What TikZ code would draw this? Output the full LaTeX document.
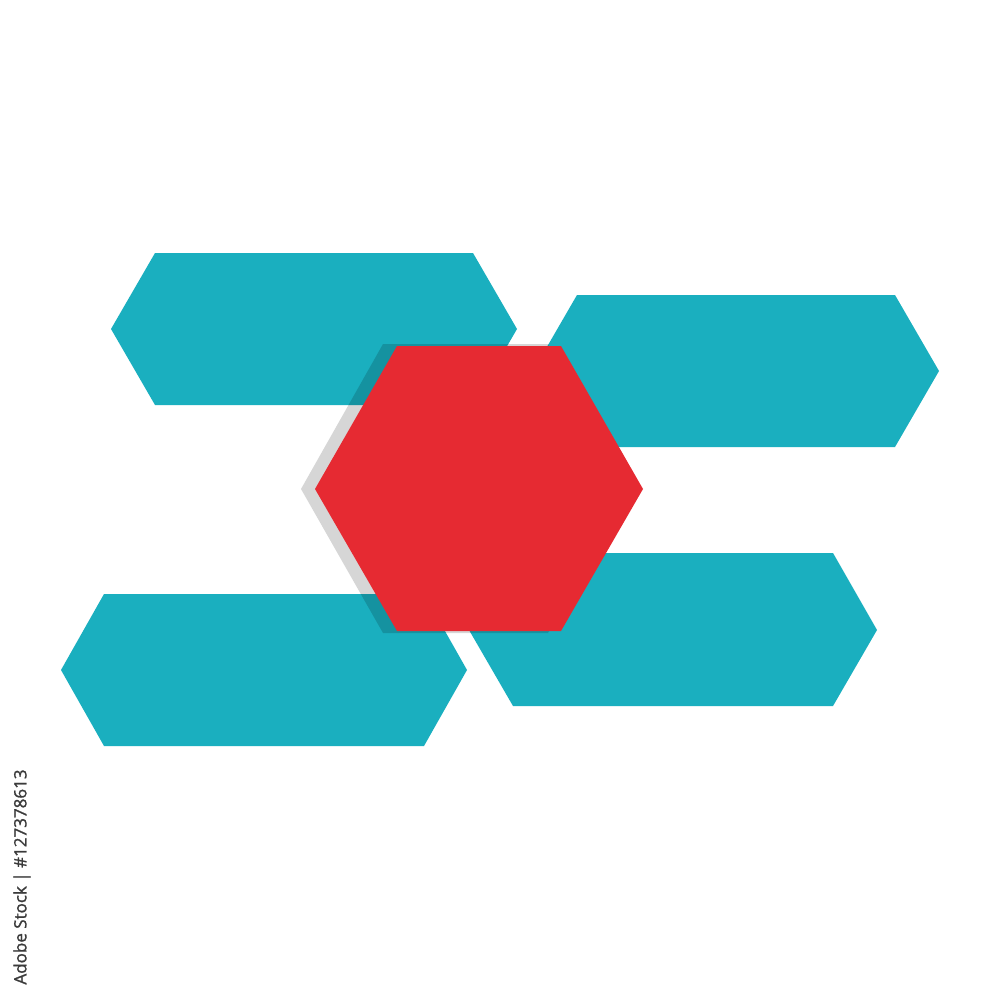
\documentclass[tikz,border=0pt]{standalone}
\usepackage{fontspec}
\newfontfamily\idfont[FakeBold=1.2]{Open Sans}
\definecolor{tealc}{HTML}{1AAFBF}
\definecolor{redc}{HTML}{E62A32}
\definecolor{idgray}{HTML}{3A3A3A}
\begin{document}
\begin{tikzpicture}[x=1pt,y=-1pt,
  tealhex/.style={fill=tealc,draw=none},
  redhex/.style={fill=redc,draw=none},
  shadowhex/.style={fill=black,fill opacity=0.16,draw=none}]
\useasboundingbox (0,0) rectangle (1000,1000);
\fill[white] (0,0) rectangle (1000,1000);
% teal hexagons
\path[tealhex] (155,253) -- (473,253) -- (517,329) -- (473,405) -- (155,405) -- (111,329) -- cycle;
\path[tealhex] (577,295) -- (895,295) -- (939,371) -- (895,447) -- (577,447) -- (533,371) -- cycle;
\path[tealhex] (104,594) -- (424,594) -- (467,670) -- (424,746) -- (104,746) -- (61,670) -- cycle;
\path[tealhex] (513,553) -- (833,553) -- (877,630) -- (833,706) -- (513,706) -- (469,630) -- cycle;
% shadow
\path[shadowhex] (383,344) -- (548,344) -- (630,489) -- (548,633) -- (383,633) -- (301,489) -- cycle;
% red hexagon
\path[redhex] (397,346) -- (561,346) -- (643,489) -- (561,631) -- (397,631) -- (315,489) -- cycle;
% id text
\node[rotate=90,font=\idfont\fontsize{17}{17}\selectfont,text=idgray,inner sep=0pt] (id) at (22,877) {Adobe Stock | \#127378613};
\end{tikzpicture}
\end{document}
